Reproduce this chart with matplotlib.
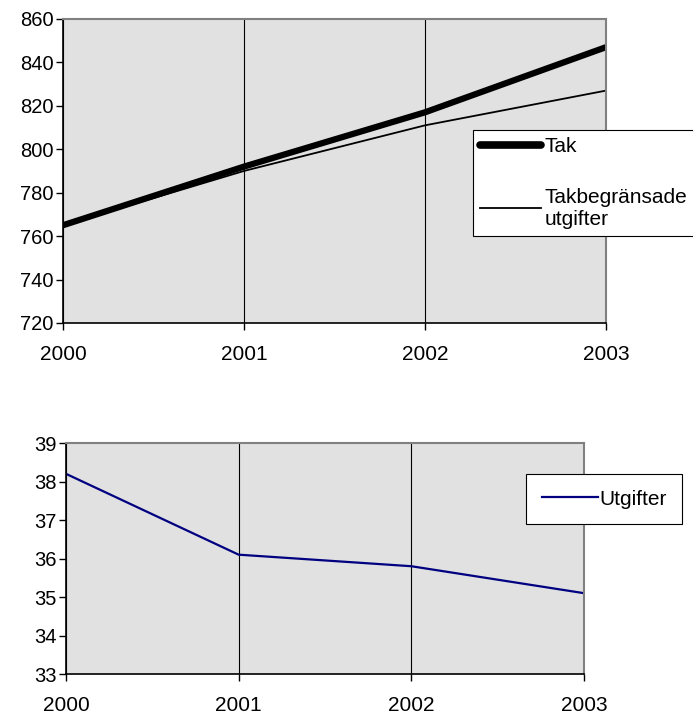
import matplotlib.pyplot as plt

plt.rcParams['font.family'] = ['Liberation Sans', 'DejaVu Sans']

# Data
years = [2000, 2001, 2002, 2003]
tak = [765, 792, 817, 847]
takbegransade = [765, 790, 811, 827]
utgifter = [38.2, 36.1, 35.8, 35.1]

fig = plt.figure(figsize=(6.93, 7.15), dpi=100)
ax1 = fig.add_axes([0.0909, 0.5483, 0.7835, 0.4252])
ax2 = fig.add_axes([0.0952, 0.0573, 0.7475, 0.3231])


def style_axes(ax, ylim, yticks):
    ax.set_facecolor('#e1e1e1')
    ax.set_xlim(years[0], years[-1])
    ax.set_ylim(*ylim)
    ax.set_xticks(years)
    ax.set_yticks(yticks)
    ax.xaxis.grid(True, color='black', linewidth=0.8)
    ax.set_axisbelow(True)
    for side in ['top', 'right']:
        ax.spines[side].set_color('#808080')
        ax.spines[side].set_linewidth(1.5)
    for side in ['left', 'bottom']:
        ax.spines[side].set_color('black')
        ax.spines[side].set_linewidth(1.2)
    ax.tick_params(axis='y', direction='out', length=5, width=1, labelsize=14.5, pad=2)
    ax.tick_params(axis='x', direction='out', length=5, width=1, labelsize=15, pad=11)


style_axes(ax1, (720, 860), range(720, 861, 20))
ax1.plot(years, tak, color='black', linewidth=4.5, solid_capstyle='round', label='Tak')
ax1.plot(years, takbegransade, color='black', linewidth=1.3, label='Takbegränsade\nutgifter')
leg1 = ax1.legend(loc='upper left', bbox_to_anchor=(473 / 693, 1 - 130 / 715),
                  bbox_transform=fig.transFigure, fancybox=False, framealpha=1,
                  edgecolor='black', fontsize=15, handlelength=2.9, handletextpad=0.2,
                  labelspacing=1.5, borderpad=0.35, borderaxespad=0)
leg1.get_frame().set_linewidth(0.8)
leg1.get_lines()[0].set_linewidth(5.5)

style_axes(ax2, (33, 39), range(33, 40))
ax2.plot(years, utgifter, color='#000080', linewidth=1.6, label='Utgifter')
leg2 = ax2.legend(loc='upper left', bbox_to_anchor=(526 / 693, 1 - 474 / 715),
                  bbox_transform=fig.transFigure, fancybox=False, framealpha=1,
                  edgecolor='black', fontsize=15, handlelength=2.7, handletextpad=0.05,
                  borderpad=0.75, borderaxespad=0)
leg2.get_frame().set_linewidth(0.8)

fig.savefig('out.png', dpi=100)
